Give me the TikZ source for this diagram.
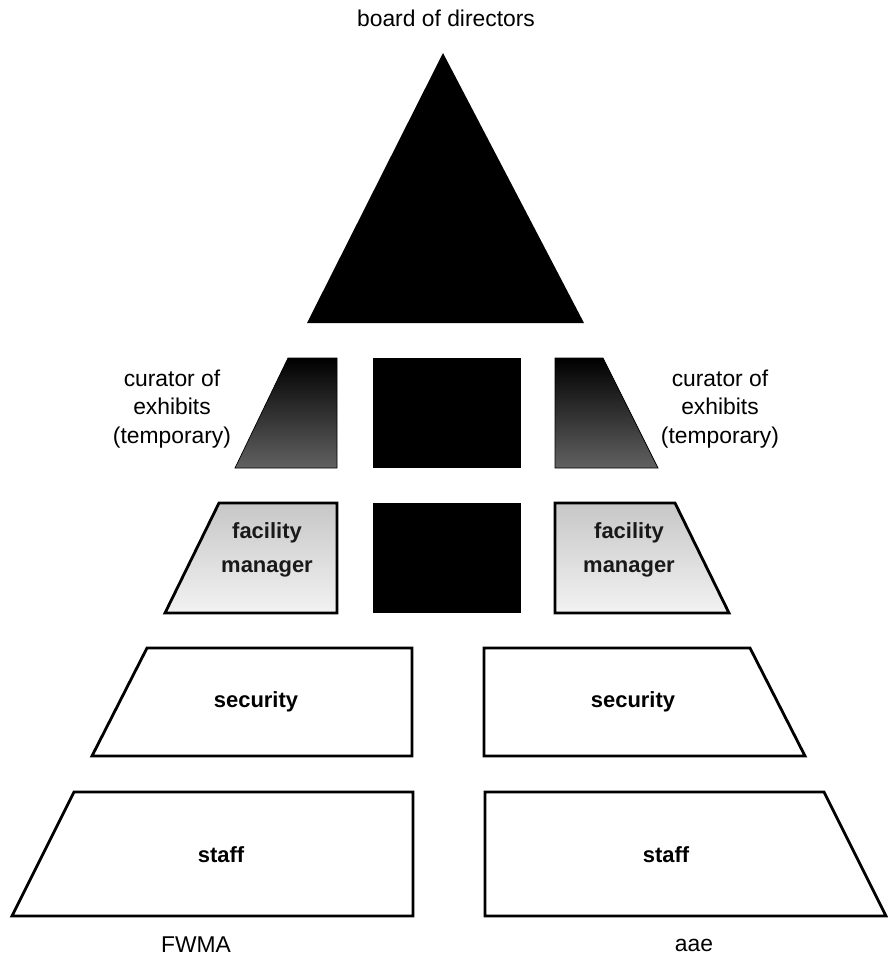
\documentclass[tikz,border=0pt]{standalone}
\usepackage{fontspec}
\setmainfont{Liberation Sans}
\begin{document}
\begin{tikzpicture}[x=0.02cm,y=-0.02cm,
  box/.style={draw=black,line width=1.6pt,line join=miter},
  boxtext/.style={font=\fontsize{12.5}{19}\selectfont\bfseries,align=center},
  label/.style={font=\fontsize{13}{16.4}\selectfont,align=center}]
\useasboundingbox (0,0) rectangle (888,956);

% top of the pyramid
\fill (443,53) -- (584,323) -- (307,323) -- cycle;
\node[label] (board) at (446,18) {board of directors};

% middle column
\foreach \y in {358,503}
  \fill (373,\y) rectangle (521,{\y+110});

% curators
\shade[top color=black,middle color=black!88,bottom color=black!62,draw=black] (288,358) -- (337,358) -- (337,468) -- (235,468) -- cycle;
\shade[top color=black,middle color=black!88,bottom color=black!62,draw=black] (555,358) -- (603,358) -- (658,468) -- (555,468) -- cycle;
\node[label] (curL) at (172,409) {curator of\\exhibits\\(temporary)};
\node[label] (curR) at (720,409) {curator of\\exhibits\\(temporary)};

% facility managers
\shade[box,top color=black!22,bottom color=black!5] (219,503) -- (337,503) -- (337,613) -- (165,613) -- cycle;
\shade[box,top color=black!22,bottom color=black!5] (555,503) -- (675,503) -- (729,613) -- (555,613) -- cycle;
\node[boxtext,text=black!90] (facL) at (267,550) {facility\\manager};
\node[boxtext,text=black!90] (facR) at (629,550) {facility\\manager};

% security
\draw[box] (147,648) -- (412,648) -- (412,756) -- (92,756) -- cycle;
\draw[box] (484,648) -- (750,648) -- (805,756) -- (484,756) -- cycle;
\node[boxtext] (secL) at (256,702) {security};
\node[boxtext] (secR) at (633,702) {security};

% staff
\draw[box] (74,792) -- (413,792) -- (413,916) -- (12,916) -- cycle;
\draw[box] (485,792) -- (824,792) -- (886,916) -- (485,916) -- cycle;
\node[boxtext] (stfL) at (221,855) {staff};
\node[boxtext] (stfR) at (666,855) {staff};

\node[label] (fwma) at (196,945) {FWMA};
\node[label] (aae) at (694,945) {aae};
\end{tikzpicture}
\end{document}
